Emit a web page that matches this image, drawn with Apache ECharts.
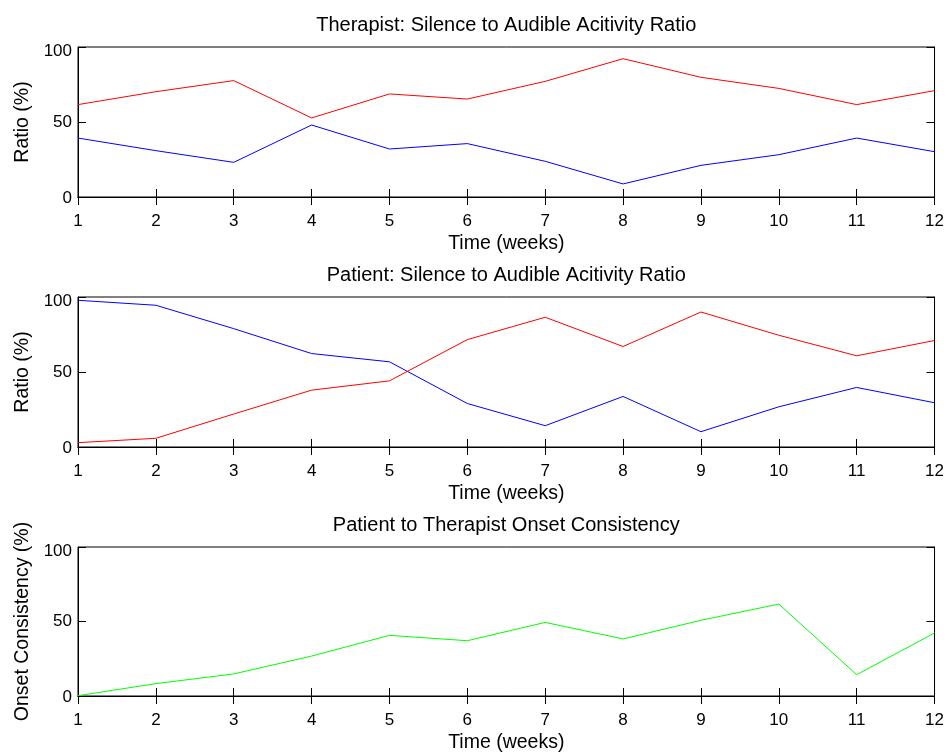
<!DOCTYPE html>
<html>
<head>
<meta charset="utf-8">
<script src="https://cdn.jsdelivr.net/npm/echarts@6/dist/echarts.min.js"></script>
<style>
html,body{margin:0;padding:0;background:#fff;}
#chart{width:947px;height:754px;}
</style>
</head>
<body>
<div id="chart"></div>
<script>
// Data
const weeks = [1,2,3,4,5,6,7,8,9,10,11,12];
const therapistRed  = [61.6,70.2,77.6,52.7,68.7,65.3,77.1,92.2,79.8,72.4,61.6,70.9];
const therapistBlue = [39.3,30.9,23.1,48.0,32.0,35.6,23.8,8.7,21.1,28.2,39.3,30.2];
const patientBlue   = [97.8,94.5,78.9,62.3,56.8,29.0,14.2,33.7,10.2,26.8,39.7,29.5];
const patientRed    = [2.9,5.8,22.0,37.9,44.1,71.6,86.5,67.0,90.0,74.5,60.8,71.0];
const onsetGreen    = [0.2,8.3,14.8,26.8,40.7,37.1,49.4,38.3,50.8,61.7,14.3,42.3];
const titles = [
  'Therapist: Silence to Audible Acitivity Ratio',
  'Patient: Silence to Audible Acitivity Ratio',
  'Patient to Therapist Onset Consistency'
];
const yNames = ['Ratio (%)','Ratio (%)','Onset Consistency (%)'];
const xName = 'Time (weeks)';

const FONT = '"Liberation Sans", Arial, Helvetica, sans-serif';
const FS = 17;
const NFS = 19.5;
const TFS = 20;
const gridTops = [47, 297, 547];
const grids = gridTops.map(t => ({left:78, width:858, top:t, height:150, show:true, borderColor:'#000', borderWidth:1, backgroundColor:'#fff'}));

const xAxes = [], yAxes = [];
gridTops.forEach((t,i) => {
  xAxes.push({
    type:'value', gridIndex:i, min:1, max:12, interval:1, position:'bottom',
    axisLine:{show:true, lineStyle:{color:'#000', width:1}},
    axisTick:{show:true, inside:true, length:8, lineStyle:{color:'#000'}},
    axisLabel:{color:'#000', fontSize:FS, fontFamily:FONT, margin:16},
    splitLine:{show:false},
    name:xName, nameLocation:'middle', nameGap:37,
    nameTextStyle:{color:'#000', fontSize:NFS, fontFamily:FONT}
  });
  xAxes.push({
    type:'value', gridIndex:i, min:1, max:12, interval:1, position:'top',
    axisLine:{show:true, lineStyle:{color:'#000', width:1}},
    axisTick:{show:true, inside:true, length:8, lineStyle:{color:'#000'}},
    axisLabel:{show:false}, splitLine:{show:false},
    name:titles[i], nameLocation:'middle', nameGap:12,
    nameTextStyle:{color:'#000', fontSize:TFS, fontFamily:FONT}
  });
  yAxes.push({
    type:'value', gridIndex:i, min:0, max:100, interval:50, position:'left',
    axisLine:{show:true, lineStyle:{color:'#000', width:1}},
    axisTick:{show:true, inside:true, length:8, lineStyle:{color:'#000'}},
    axisLabel:{color:'#000', fontSize:FS, fontFamily:FONT, margin:6,
      formatter: v => v === 100 ? '{d|100}' : (v === 0 ? '{z|0}' : String(v)),
      rich:{
        d:{padding:[9,0,0,0], fontSize:FS, fontFamily:FONT, color:'#000'},
        z:{padding:[3,0,0,0], fontSize:FS, fontFamily:FONT, color:'#000'}
      }},
    splitLine:{show:false},
    name:yNames[i], nameLocation:'middle', nameGap:44, nameRotate:90,
    nameTextStyle:{color:'#000', fontSize:NFS, fontFamily:FONT}
  });
  yAxes.push({
    type:'value', gridIndex:i, min:0, max:100, interval:50, position:'right',
    axisLine:{show:true, lineStyle:{color:'#000', width:1}},
    axisTick:{show:true, inside:true, length:8, lineStyle:{color:'#000'}},
    axisLabel:{show:false}, splitLine:{show:false}
  });
});

function pairs(arr){ return weeks.map((w,k)=>[w, arr[k]]); }
function line(data, color, gi){
  return {type:'line', xAxisIndex:gi*2, yAxisIndex:gi*2, data:pairs(data), symbol:'none',
    lineStyle:{color:color, width:1}, itemStyle:{color:color}, animation:false, silent:true};
}

const chart = echarts.init(document.getElementById('chart'), null, {renderer:'canvas'});
chart.setOption({
  backgroundColor:'#fff',
  animation:false,
  grid:grids,
  xAxis:xAxes,
  yAxis:yAxes,
  series:[
    line(therapistRed,'#ff0000',0),
    line(therapistBlue,'#0000ff',0),
    line(patientBlue,'#0000ff',1),
    line(patientRed,'#ff0000',1),
    line(onsetGreen,'#00ff00',2)
  ]
});
</script>
</body>
</html>
